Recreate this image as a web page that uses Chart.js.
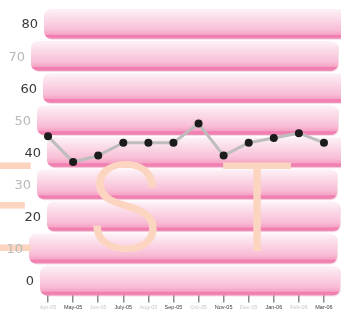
<!DOCTYPE html>
<html>
<head>
<meta charset="utf-8">
<script src="https://cdn.jsdelivr.net/npm/chart.js@4"></script>
<style>
  html, body { margin: 0; padding: 0; background: #fff; }
  #wrap { width: 341px; height: 316px; }
</style>
</head>
<body>
<div id="wrap"><canvas id="myChart" width="341" height="316"></canvas></div>
<script>
const months = ["Apr-05", "May-05", "Jun-05", "July-05", "Aug-05", "Sep-05", "Oct-05", "Nov-05", "Dec-05", "Jan-06", "Feb-06", "Mar-06"];
const values = [45, 37, 39, 43, 43, 43, 49, 39, 43, 44.5, 46, 43];
const yTicks = [80, 70, 60, 50, 40, 30, 20, 10, 0];
const watermark = "TEST";

// band styling (left/right edges of each pink stripe)
const bandLeft = [44, 31, 43, 37, 47, 37, 47, 29, 40];
const bandRight = [346, 338, 346, 338, 346, 337, 340, 337, 340];
const darkText = "#3a3a3a";
const lightText = "#b9b9b9";
const peach = "rgb(252,213,193)";

const bandPlugin = {
  id: "bands",
  beforeDatasetsDraw(chart) {
    const ctx = chart.ctx;
    const y = chart.scales.y;
    const step = Math.abs(y.getPixelForValue(0) - y.getPixelForValue(10));
    ctx.save();
    yTicks.forEach((v, i) => {
      const cy = y.getPixelForValue(v);
      const top = cy - step * 0.47;
      const h = step * 0.93;
      const l = bandLeft[i], r = bandRight[i];
      ctx.fillStyle = "rgba(210,130,160,0.25)";
      ctx.beginPath();
      ctx.roundRect(l + 1, top + 1, r - l, h, 7);
      ctx.fill();
      const g = ctx.createLinearGradient(0, top, 0, top + h);
      g.addColorStop(0, "#fdf2f8");
      g.addColorStop(0.7, "#f8bed6");
      g.addColorStop(0.86, "#f5a2c5");
      g.addColorStop(0.89, "#f07aad");
      g.addColorStop(1, "#f28cb8");
      ctx.fillStyle = g;
      ctx.beginPath();
      ctx.roundRect(l, top, r - l, h, 7);
      ctx.fill();
    });

    // big watermark letters
    ctx.fillStyle = peach;
    ctx.font = "300 124px Roboto";
    ctx.textBaseline = "alphabetic";
    ctx.textAlign = "left";
    const base = 251;
    const mE = ctx.measureText(watermark[1]);
    ctx.fillText(watermark[1], 31 - mE.actualBoundingBoxRight, base);
    const mS = ctx.measureText(watermark[2]);
    ctx.fillText(watermark[2], 93 + mS.actualBoundingBoxLeft, base);
    const mT = ctx.measureText(watermark[3]);
    ctx.fillText(watermark[3], 223 + mT.actualBoundingBoxLeft, base);

    // y tick labels, following the stripes
    ctx.font = "13px 'DejaVu Sans'";
    ctx.textAlign = "right";
    ctx.textBaseline = "middle";
    yTicks.forEach((v, i) => {
      ctx.fillStyle = i % 2 === 0 ? darkText : lightText;
      ctx.fillText(String(v), bandLeft[i] - 6, y.getPixelForValue(v) + 1);
    });
    ctx.restore();
  }
};

const config = {
  type: "line",
  data: {
    labels: months,
    datasets: [{
      label: "value",
      data: values,
      borderColor: "#bdbdbd",
      borderWidth: 3,
      tension: 0,
      pointRadius: 4,
      pointBackgroundColor: "#1c1c1c",
      pointBorderWidth: 0,
    }]
  },
  options: {
    responsive: false,
    animation: false,
    layout: { padding: { left: 35.5, right: 4.5, top: 8, bottom: 3 } },
    plugins: {
      legend: { display: false },
      tooltip: { enabled: false },
    },
    scales: {
      x: {
        offset: true,
        border: { display: false },
        grid: {
          drawOnChartArea: false,
          drawTicks: true,
          tickLength: 12,
          color: "#8a8a8a",
          lineWidth: 1.5,
        },
        ticks: {
          autoSkip: false,
          maxRotation: 0,
          padding: 2,
          font: { family: "'Liberation Sans'", size: 5.5 },
          color: (c) => c.index % 2 ? darkText : "#c8c8c8",
        }
      },
      y: {
        display: false,
        min: -3,
        max: 85,
      }
    }
  },
  plugins: [bandPlugin]
};
new Chart("myChart", config);
</script>
</body>
</html>
